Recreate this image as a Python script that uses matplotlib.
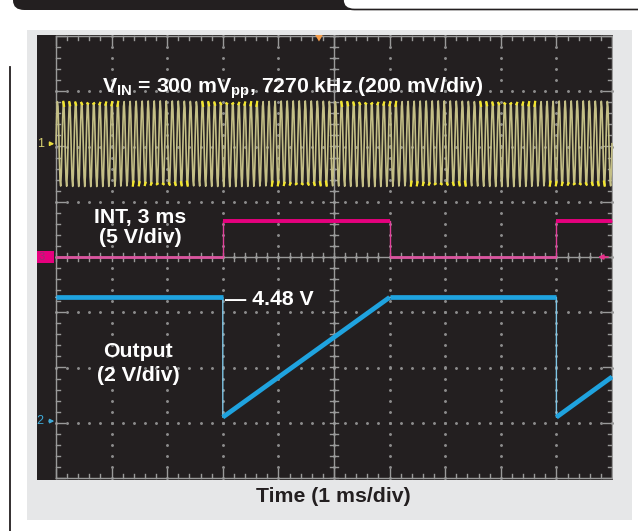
import matplotlib.pyplot as plt
from matplotlib.patches import FancyBboxPatch, Rectangle, Polygon
import numpy as np

plt.rcParams['font.family'] = ['Liberation Sans', 'DejaVu Sans']
plt.rcParams['font.weight'] = 'bold'
plt.rcParams['mathtext.fontset'] = 'custom'
plt.rcParams['mathtext.rm'] = 'Liberation Sans:bold'
plt.rcParams['mathtext.it'] = 'Liberation Sans:bold'
plt.rcParams['mathtext.bf'] = 'Liberation Sans:bold'

# time axis: 1 ms/div, 10 divisions
time_span_ms = 10

# channel 1: input sine (200 mV/div), shown aliased on the screen
vin_amp_v = 0.155           # ~300 mVpp
vin_volts_div = 0.2
vin_offset_div = 2.05
vin_cycles_on_screen = 92   # counted off the screen

# channel 3: INT signal (5 V/div)
int_t = [0, 3, 3, 6, 6, 9, 9, 10]
int_v = [0, 0, 3.3, 3.3, 0, 0, 3.3, 3.3]
int_volts_div = 5
int_offset_div = 0.0

# channel 2: output (2 V/div)
out_t = [0, 3, 3, 6, 9, 9, 10]
out_v = [4.48, 4.48, 0.14, 4.48, 4.48, 0.14, 1.6]
out_volts_div = 2
out_offset_div = -2.97

W, H = 638, 531
BLACK = '#231f20'
GRID = '#8c8c8c'

fig = plt.figure(figsize=(W / 100, H / 100), dpi=100)
fig.patch.set_facecolor('white')


def fx(px):
    return px / W


def fy(py):
    return 1 - py / H


# gray panel behind the scope screen
fig.patches.append(Rectangle((fx(27), fy(520)), fx(632) - fx(27), fy(30) - fy(520),
                             transform=fig.transFigure, facecolor='#e6e7e8',
                             edgecolor='none', zorder=-2))
# header tabs
fig.patches.append(FancyBboxPatch((fx(13), fy(10)), fx(360) - fx(13), 0.05,
                                  boxstyle='round,pad=0,rounding_size=0.018',
                                  transform=fig.transFigure, facecolor=BLACK,
                                  edgecolor='none', zorder=-1))
fig.patches.append(FancyBboxPatch((fx(343), fy(9.5)), fx(700) - fx(343), 0.05,
                                  boxstyle='round,pad=0,rounding_size=0.018',
                                  transform=fig.transFigure, facecolor='white',
                                  edgecolor=BLACK, linewidth=1.2, zorder=-1))
fig.add_artist(plt.Line2D([fx(10), fx(10)], [fy(67), 0], color=BLACK, lw=1.3,
                          transform=fig.transFigure))

# scope screen
ax = fig.add_axes([fx(37), fy(480), fx(613) - fx(37), fy(35) - fy(480)])
ax.set_zorder(2)
ax.set_facecolor(BLACK)
px_div_x = 55.6
px_div_y = 55.25
ax.set_xlim((37 - 56) / px_div_x, (613 - 56) / px_div_x)
ax.set_ylim((257 - 480) / px_div_y, (257 - 35) / px_div_y)
for s in ax.spines.values():
    s.set_visible(False)
ax.set_xticks([])
ax.set_yticks([])

# graticule: dotted grid
sub = np.arange(0, time_span_ms + 0.001, 0.2)
suby = np.arange(-4, 4.001, 0.2)
for gx in range(1, 10):
    ax.plot(np.full_like(suby, gx), suby, ls='none', marker='o', ms=1.1,
            color=GRID, zorder=1)
for gy in range(-3, 4):
    ax.plot(sub, np.full_like(sub, gy), ls='none', marker='o', ms=1.1,
            color=GRID, zorder=1)

# border and center axes with ticks
ax.plot([0, 10, 10, 0, 0], [-4, -4, 4, 4, -4], color='#9a9a9a', lw=1, zorder=1)
tx = 5 / px_div_x
ty = 5 / px_div_y
for v in sub:
    big = abs(v - round(v)) < 1e-6
    ly = (9 if big else 4) / px_div_y
    ax.plot([v, v], [4, 4 - ly], color='#9a9a9a', lw=1, zorder=1)
    ax.plot([v, v], [-4, -4 + ly], color='#9a9a9a', lw=1, zorder=1)
    ax.plot([v, v], [-ty * 0.8, ty * 0.8], color='#9a9a9a', lw=1, zorder=1)
for v in suby:
    big = abs(v - round(v)) < 1e-6
    lx = (9 if big else 4) / px_div_x
    ax.plot([0, lx], [v, v], color='#9a9a9a', lw=1, zorder=1)
    ax.plot([10, 10 - lx], [v, v], color='#9a9a9a', lw=1, zorder=1)
    ax.plot([5 - tx * 0.8, 5 + tx * 0.8], [v, v], color='#9a9a9a', lw=1, zorder=1)
ax.plot([0, 10], [0, 0], color='#9a9a9a', lw=1, zorder=1)
ax.plot([5, 5], [-4, 4], color='#9a9a9a', lw=1, zorder=1)

# channel 1 trace
t1 = np.linspace(0, time_span_ms, vin_cycles_on_screen * 9 + 5)
y1 = vin_amp_v * np.sin(2 * np.pi * vin_cycles_on_screen * t1 / time_span_ms)
y1d = vin_offset_div + y1 / vin_volts_div
ax.plot(t1, y1d, color='#c4bf86', lw=1.2, zorder=3)
tips = np.ma.masked_where(np.abs(y1) < 0.88 * vin_amp_v, y1d)
ax.plot(t1, tips, color='#f2e52c', lw=1.6, zorder=4)

# channel 3 trace
it = np.array(int_t, dtype=float)
iv = int_offset_div + np.array(int_v) / int_volts_div
ax.plot(it, iv, color='#e0409a', lw=1.0, zorder=5)
for i in range(len(it) - 1):
    if it[i + 1] > it[i]:
        hi = int_v[i] > 0
        ax.plot(it[i:i + 2], iv[i:i + 2], color='#e6007e' if hi else '#d9559e',
                lw=2.8 if hi else 2.0, solid_capstyle='butt', zorder=5)

# channel 2 trace
ot = np.array(out_t, dtype=float)
ov = out_offset_div + np.array(out_v) / out_volts_div
ax.plot(ot, ov, color='#7fc6e6', lw=1.0, zorder=6)
for i in range(len(ot) - 1):
    if ot[i + 1] > ot[i]:
        ax.plot(ot[i:i + 2], ov[i:i + 2], color='#1fa3df', lw=3.4,
                solid_capstyle='butt', zorder=6)

# channel markers on the left
ax.text(-0.27, vin_offset_div, '1', color='#d6cf72', fontsize=9, va='center',
        ha='center', fontweight='normal')
ax.annotate('', xy=(0.02, vin_offset_div), xytext=(-0.16, vin_offset_div),
            arrowprops=dict(arrowstyle='-|>', color='#e8dc40', lw=1,
                            mutation_scale=6))
ax.add_patch(Rectangle((-0.34, int_offset_div - 0.11), 0.31, 0.22,
                       facecolor='#e6007e', edgecolor='none', zorder=6))
ax.text(-0.26, int_offset_div, '3', color='#9a3070', fontsize=8, va='center',
        ha='center', fontweight='normal', zorder=7)
ax.text(-0.29, out_offset_div, '2', color='#3fa9d6', fontsize=9, va='center',
        ha='center', fontweight='normal')
ax.annotate('', xy=(0.02, out_offset_div), xytext=(-0.18, out_offset_div),
            arrowprops=dict(arrowstyle='-|>', color='#3fa9d6', lw=1,
                            mutation_scale=6))
ax.annotate('', xy=(9.7, int_offset_div), xytext=(9.98, int_offset_div),
            arrowprops=dict(arrowstyle='-|>', color='#e8308a', lw=1.2,
                            mutation_scale=7), zorder=7)
# trigger position marker on top
ax.add_patch(Polygon([[4.66, 4.02], [4.80, 4.02], [4.73, 3.90]], closed=True,
                     facecolor='#f39c4a', edgecolor='none', zorder=7))

# annotations
tsize = 15.3
fig.text(fx(102), fy(93), r'V$_{\mathrm{IN}}$ = 300 mV$_{\mathrm{pp}}$, 7270 kHz (200 mV/div)',
         color='white', fontsize=tsize, fontweight='bold', ha='left', va='baseline',
         zorder=5)
fig.text(fx(140), fy(223), 'INT, 3 ms', color='white', fontsize=tsize,
         fontweight='bold', ha='center', va='baseline', zorder=5)
fig.text(fx(140), fy(243), '(5 V/div)', color='white', fontsize=tsize,
         fontweight='bold', ha='center', va='baseline', zorder=5)
fig.text(fx(138), fy(357), 'Output', color='white', fontsize=tsize,
         fontweight='bold', ha='center', va='baseline', zorder=5)
fig.text(fx(138), fy(381), '(2 V/div)', color='white', fontsize=tsize,
         fontweight='bold', ha='center', va='baseline', zorder=5)
fig.text(fx(225), fy(305), '\u2014 4.48 V', color='white', fontsize=tsize,
         fontweight='bold', ha='left', va='baseline', zorder=5)
fig.text(fx(333), fy(502), 'Time (1 ms/div)', color=BLACK, fontsize=tsize,
         fontweight='bold', ha='center', va='baseline', zorder=5)

fig.savefig('out.png', dpi=100)
